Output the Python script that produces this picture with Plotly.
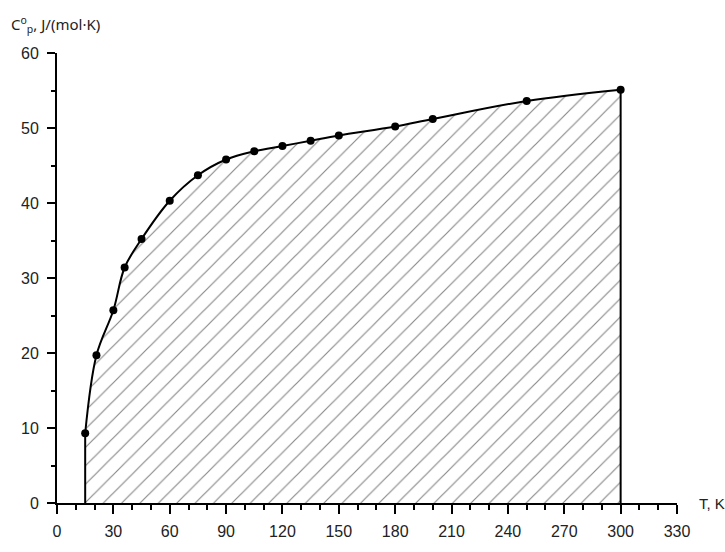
import plotly.graph_objects as go

# Heat capacity data
temperature_k = [15, 21, 30, 36, 45, 60, 75, 90, 105, 120, 135, 150, 180, 200, 250, 300]
cp_values = [9.3, 19.7, 25.7, 31.4, 35.2, 40.3, 43.7, 45.8, 46.9, 47.6, 48.3, 49.0, 50.2, 51.2, 53.6, 55.1]

x_ticks = [0, 30, 60, 90, 120, 150, 180, 210, 240, 270, 300, 330]
y_ticks = [0, 10, 20, 30, 40, 50, 60]

fig = go.Figure()

# Hatched area under the curve
fig.add_trace(go.Scatter(
    x=temperature_k,
    y=cp_values,
    mode='lines+markers',
    fill='tozeroy',
    fillpattern=dict(shape='/', fgcolor='#111111', bgcolor='white', size=13, solidity=0.09),
    line=dict(color='black', width=2, shape='spline'),
    marker=dict(color='black', size=8),
    showlegend=False,
    hoverinfo='x+y'
))

# Vertical edges of the hatched area
fig.add_trace(go.Scatter(
    x=[temperature_k[0], temperature_k[0], None, temperature_k[-1], temperature_k[-1]],
    y=[0, cp_values[0], None, 0, cp_values[-1]],
    mode='lines',
    line=dict(color='black', width=2),
    showlegend=False,
    hoverinfo='skip'
))

axis_font = dict(family='Liberation Sans, Arial', size=16, color='#222222')

fig.update_layout(
    width=725,
    height=552,
    margin=dict(l=57, r=48, t=53, b=40),
    plot_bgcolor='white',
    paper_bgcolor='white',
    xaxis=dict(
        range=[0, 330],
        tickvals=x_ticks,
        ticks='outside',
        ticklen=9,
        tickwidth=2,
        tickcolor='black',
        linecolor='black',
        linewidth=2,
        showgrid=False,
        zeroline=False,
        tickfont=axis_font,
        ticklabelstandoff=4,
        minor=dict(dtick=10, ticks='outside', ticklen=5, tickwidth=2, tickcolor='black'),
    ),
    yaxis=dict(
        range=[0, 60],
        tickvals=y_ticks,
        ticks='outside',
        ticklen=8,
        tickwidth=2,
        tickcolor='black',
        linecolor='black',
        linewidth=2,
        showgrid=False,
        zeroline=False,
        tickfont=axis_font,
        ticklabelstandoff=5,
        minor=dict(dtick=5, ticks='outside', ticklen=4, tickwidth=2, tickcolor='black'),
    ),
    annotations=[
        dict(
            text='T, K',
            xref='paper', yref='y',
            x=1.032, y=0,
            xanchor='left', yanchor='middle',
            showarrow=False,
            font=dict(family='Liberation Sans, Arial', size=15, color='#222222')
        ),
        dict(
            text='C<sup>o</sup><sub>p</sub>, J/(mol·K)',
            xref='paper', yref='paper',
            x=-0.077, y=1.063,
            xanchor='left', yanchor='middle',
            showarrow=False,
            font=dict(family='Noto Sans, Open Sans', size=15, color='#222222')
        ),
    ]
)

# drop the default 8px body margin so the figure fills the window
fig.write_html(
    "out.html",
    config={'displayModeBar': False},
    post_script="document.body.style.margin='0';"
)
